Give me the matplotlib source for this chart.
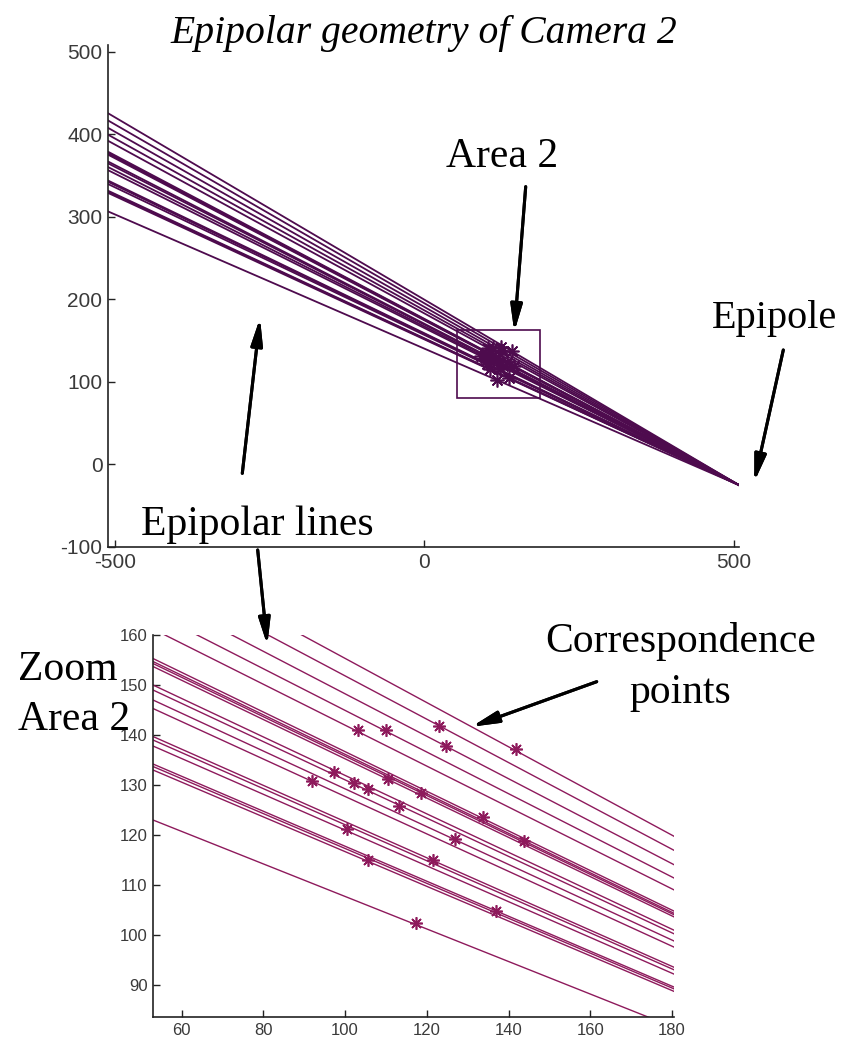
import numpy as np
import matplotlib.pyplot as plt
from matplotlib.patches import Rectangle

W, H = 854, 1041

plt.rcParams["axes.unicode_minus"] = False

# epipole of camera 2
EPIPOLE = (508.0, -25.0)

# each epipolar line is given by its height at x = 53 (left edge of the zoom)
LINE_Y_AT_53 = [176.1, 172.2, 168.2, 164.5, 161.2,
                155.3, 154.7, 154.3, 153.7, 150.0, 149.0, 147.0, 145.3,
                139.7, 139.0, 137.8, 134.2, 133.7, 133.0, 123.0]
X_REF = 53.0

# correspondence points
PTS_X = [103.1, 110.0, 122.9, 124.8, 141.8, 91.9, 97.2, 102.1, 105.7, 110.5,
         113.1, 118.6, 133.7, 127.0, 143.9, 100.4, 105.7, 121.5, 117.4, 137.0]
PTS_Y = [141.0, 141.1, 141.8, 137.8, 137.2, 130.8, 132.7, 130.5, 129.2, 131.2,
         125.9, 128.5, 123.7, 119.3, 118.9, 121.2, 115.0, 115.1, 102.5, 104.9]

# zoom window "Area 2" (x0, x1, y0, y1)
AREA2 = (52.0, 186.0, 80.0, 163.0)

TOP_XLIM = (-511, 508)
TOP_YLIM = (-100, 508)
BOT_XLIM = (53, 180.5)
BOT_YLIM = (83.6, 160)

TOP_COLOR = "#4e0b4e"
BOT_COLOR = "#8e1a5c"


def line_y(y_ref, x):
    ex, ey = EPIPOLE
    return ey + (y_ref - ey) * (x - ex) / (X_REF - ex)


def fig_xy(x, y):
    # pixel position (from top-left) -> figure fraction
    return x / W, 1 - y / H


def style_axes(ax, fontsize):
    for s in ("top", "right"):
        ax.spines[s].set_visible(False)
    for s in ("left", "bottom"):
        ax.spines[s].set_linewidth(1.2)
        ax.spines[s].set_color("#222222")
    ax.tick_params(direction="in", length=5, width=1, colors="#222222",
                   labelsize=fontsize, pad=4)
    for lab in ax.get_xticklabels() + ax.get_yticklabels():
        lab.set_fontfamily("Liberation Sans")
        lab.set_color("#3a3a3a")


fig = plt.figure(figsize=(W / 100, H / 100), dpi=100)

# ---- top: full view
ax1 = fig.add_axes([108 / W, 1 - 547 / H, (739 - 108) / W, (547 - 45) / H])
xs = np.array(TOP_XLIM, dtype=float)
xs[1] = EPIPOLE[0]
for yr in LINE_Y_AT_53:
    ax1.plot(xs, line_y(yr, xs), color=TOP_COLOR, lw=1.3)
ax1.plot(PTS_X, PTS_Y, linestyle="none", marker=(8, 2, 0), markersize=10,
         color=TOP_COLOR, mew=1.2)
ax1.add_patch(Rectangle((AREA2[0], AREA2[2]), AREA2[1] - AREA2[0],
                        AREA2[3] - AREA2[2], fill=False, ec=TOP_COLOR, lw=1.2))
ax1.set_xlim(TOP_XLIM)
ax1.set_ylim(TOP_YLIM)
ax1.set_xticks([-500, 0, 500])
ax1.set_yticks(range(-100, 501, 100))
style_axes(ax1, 15)

# ---- bottom: zoom of Area 2
ax2 = fig.add_axes([153 / W, 1 - 1017 / H, (674 - 153) / W, (1017 - 635) / H])
xb = np.array(BOT_XLIM, dtype=float)
for yr in LINE_Y_AT_53:
    ax2.plot(xb, line_y(yr, xb), color=BOT_COLOR, lw=1.0)
ax2.plot(PTS_X, PTS_Y, linestyle="none", marker=(8, 2, 0), markersize=9,
         color=BOT_COLOR, mew=1.2)
ax2.set_xlim(BOT_XLIM)
ax2.set_ylim(BOT_YLIM)
ax2.set_xticks(range(60, 181, 20))
ax2.set_yticks(range(90, 161, 10))
style_axes(ax2, 12)

# ---- texts and arrows
serif = "Liberation Serif"
fig.text(*fig_xy(424, 43), "Epipolar geometry of Camera 2", ha="center",
         va="baseline", fontsize=28.5, family=serif, style="italic")
fig.text(*fig_xy(502, 167), "Area 2", ha="center", va="baseline",
         fontsize=30, family=serif)
fig.text(*fig_xy(775, 328), "Epipole", ha="center", va="baseline",
         fontsize=29, family=serif)
fig.text(*fig_xy(257, 535), "Epipolar lines", ha="center", va="baseline",
         fontsize=30, family=serif)
fig.text(*fig_xy(681, 652), "Correspondence", ha="center", va="baseline",
         fontsize=30, family=serif)
fig.text(*fig_xy(680, 703), "points", ha="center", va="baseline",
         fontsize=30, family=serif)
fig.text(*fig_xy(18, 680), "Zoom", ha="left", va="baseline",
         fontsize=30, family=serif)
fig.text(*fig_xy(18, 730), "Area 2", ha="left", va="baseline",
         fontsize=30, family=serif)

arrows = [
    ((525.7, 186.7), (514.3, 331.7)),
    ((783.3, 350.0), (754.3, 481.7)),
    ((242.3, 473.3), (260.0, 318.3)),
    ((257.7, 550.0), (267.3, 645.0)),
    ((596.7, 681.7), (471.7, 726.7)),
]
for start, tip in arrows:
    fig.add_artist(plt.annotate(
        "", xy=fig_xy(*tip), xytext=fig_xy(*start), xycoords="figure fraction",
        textcoords="figure fraction",
        arrowprops=dict(arrowstyle="-|>,head_length=1.6,head_width=0.35",
                        color="black", lw=2.2, shrinkA=0, shrinkB=0)))

plt.savefig("out.png", dpi=100)
plt.close()
